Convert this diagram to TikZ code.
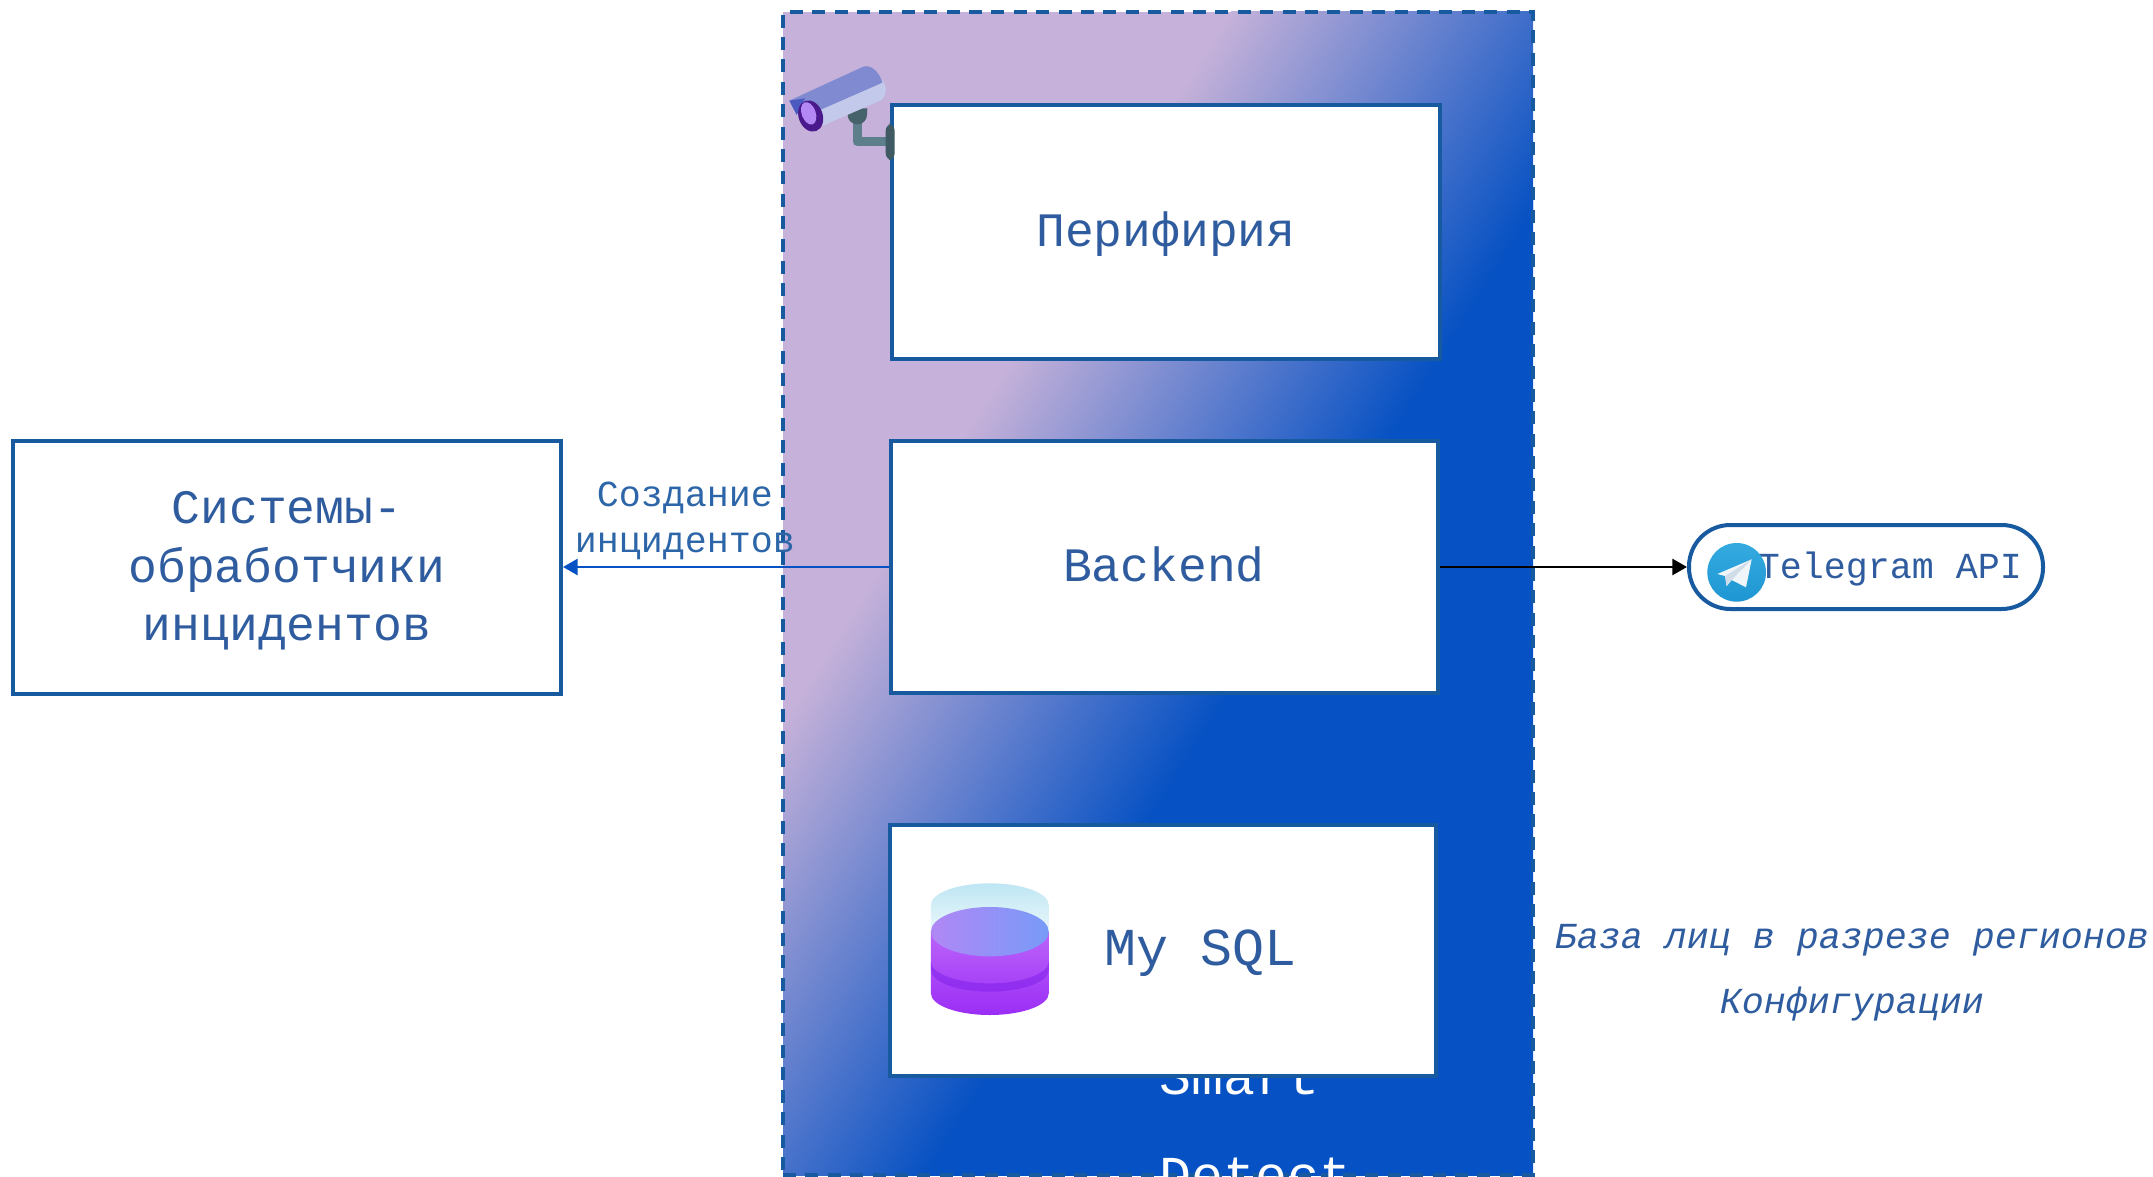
\documentclass[tikz,border=0pt]{standalone}
\usepackage{fontspec}
\setmainfont{Liberation Sans}
\setmonofont{Liberation Mono}
\usetikzlibrary{arrows.meta}
\definecolor{cpurple}{HTML}{C5B1D9}
\definecolor{cmid}{HTML}{7A80C8}
\definecolor{cblue}{HTML}{0651C3}
\definecolor{edge}{HTML}{185A9F}
\definecolor{ink}{HTML}{2F5C9F}
\definecolor{label}{HTML}{2D66A8}
\definecolor{camlight}{RGB}{194,201,234}
\definecolor{camdark}{RGB}{127,138,208}
\definecolor{camlip}{RGB}{74,90,192}
\definecolor{lensdark}{RGB}{74,26,140}
\definecolor{lenslight}{RGB}{179,136,245}
\definecolor{pipe}{RGB}{93,127,140}
\definecolor{ball}{RGB}{70,98,107}
\definecolor{plate}{RGB}{63,90,99}
\definecolor{dbcaptop}{RGB}{190,230,243}
\definecolor{dbcapbot}{RGB}{235,247,251}
\definecolor{dbtop}{RGB}{187,100,250}
\definecolor{dbbot}{RGB}{155,45,245}
\definecolor{dbband}{RGB}{125,30,235}
\definecolor{dbleft}{RGB}{176,135,245}
\definecolor{dbright}{RGB}{120,155,248}
\definecolor{tgtop}{RGB}{52,170,224}
\definecolor{tgbot}{RGB}{30,150,210}
\definecolor{tgpaper}{RGB}{240,245,250}
\definecolor{tgfold}{RGB}{208,220,232}
\tikzset{
  x=.75pt,y=-.75pt,
  txt/.style={font=\ttfamily\fontsize{36}{44}\selectfont,text=ink,align=center},
  box/.style={draw=edge,line width=3pt,fill=white,txt},
  fixh/.style={text height=22pt,text depth=0pt},
  small/.style={font=\ttfamily\fontsize{27.5}{34}\selectfont,text=label,align=center,inner sep=0pt},
  note/.style={font=\ttfamily\itshape\fontsize{27.5}{48.5}\selectfont,text=ink,align=center,inner sep=0pt},
  frame/.style={draw=edge,line width=2.6pt,dash pattern=on 9.8pt off 7pt},
  pill/.style={draw=edge,line width=3pt,fill=white,rounded corners=31pt,font=\ttfamily\fontsize{27.5}{34}\selectfont,text=ink,inner sep=0pt,text height=16.5pt,text depth=0pt},
  wire/.style={line width=2pt,-{Triangle[length=11pt,width=12pt]}}
}
\begin{document}
\begin{tikzpicture}
\useasboundingbox (0,0) rectangle (2153,1177);
\clip (0,0) rectangle (2153,1177);
% container gradient
\begin{scope}
  \clip (783,12) rectangle (1533,1175);
  \fill[cpurple] (783,12) rectangle (1533,1175);
  \begin{scope}[transform canvas={rotate around={-32.2:(0,0)}}]
    \fill[cblue] (1400,-3000) rectangle (4000,3000);
    \shade[left color=cpurple,middle color=cmid,right color=cblue] (1048,-3000) rectangle (1410,3000);
  \end{scope}
\end{scope}
\node[frame,minimum width=750*.75pt,minimum height=1163*.75pt,inner sep=0pt] (cont) at (1158,593.5) {};
% caption of the container, partly hidden
\node[font=\ttfamily\fontsize{40}{74}\selectfont,text=white,align=left,anchor=north west,inner sep=0pt] (cap) at (1159,1059) {Smart\\Detect};
% boxes
\node[box,fixh,minimum width=548*.75pt,minimum height=254*.75pt] (per) at (1166,232) {Перифирия};
\node[box,fixh,minimum width=547*.75pt,minimum height=252*.75pt] (back) at (1164,567) {Backend};
\node[box,minimum width=546*.75pt,minimum height=251*.75pt] (sql) at (1163,950) {};
\node[txt,font=\ttfamily\fontsize{40}{48}\selectfont,text height=22.5pt,text depth=0pt] (sqlt) at (1201,950) {My SQL};
\node[box,minimum width=548*.75pt,minimum height=253*.75pt] (sys) at (287,567) {};
\node[txt] (syst) at (287,571) {Системы-\\обработчики\\инцидентов};
\node[pill,minimum width=354*.75pt,minimum height=84*.75pt] (tg) at (1866,567) {\hspace*{36pt}Telegram API};
% connectors
\draw[wire,draw=cblue] (back.west) -- (sys.east);
\draw[wire,draw=black] (back.east) -- (tg.west);
\node[small] (lab) at (685,521) {Создание\\инцидентов};
\node[note] (nt) at (1852,973) {База лиц в разрезе регионов\\Конфигурации};
% camera
\begin{scope}[shift={(770,0)},x=.25pt,y=-.25pt]
  \draw[pipe,line width=7pt,line join=round] (262,350) -- (262,425) -- (350,425);
  \fill[ball] (233,345) arc (180:0:29 and 28) -- (292,325) -- (233,325) -- cycle;
  \fill[plate,rounded corners=5pt] (347,372) rectangle (374,480);
  \fill[camlight] (130,325) -- (338,240) .. controls (352,265) and (350,285) .. (335,300) -- (140,385) -- cycle;
  \fill[camdark] (58,302) -- (280,200) .. controls (305,192) and (330,220) .. (337,248) -- (150,330) -- (80,340) -- cycle;
  \fill[camlip] (58,302) -- (105,295) -- (80,345) -- cycle;
  \fill[lensdark,rotate around={20:(122,348)}] (122,348) ellipse [x radius=36,y radius=48];
  \fill[lenslight,rotate around={20:(116,340)}] (116,340) ellipse [x radius=21,y radius=35];
\end{scope}
% database
\begin{scope}[shift={(880,850)},x=.287pt,y=-.25pt]
  \shade[top color=dbcaptop,bottom color=dbcapbot] (133,165) arc (180:360:154 and 65) -- (441,245) -- (133,245) -- cycle;
  \shade[top color=dbtop,bottom color=dbbot] (133,245) -- (441,245) -- (441,430) arc (0:180:154 and 65) -- cycle;
  \fill[dbband,opacity=.5] (133,335) arc (180:0:154 and 65) -- (441,360) arc (0:180:154 and 65) -- cycle;
  \shade[left color=dbleft,right color=dbright] (287,245) ellipse [x radius=154,y radius=74];
\end{scope}
% telegram logo
\begin{scope}[shift={(1660,500)},x=.25pt,y=-.25pt]
  \shade[top color=tgtop,bottom color=tgbot] (230,217) circle [radius=88];
  \fill[tgpaper] (172,222) -- (275,178) -- (258,262) -- (215,240) -- (200,258) -- (195,228) -- cycle;
  \fill[tgfold] (195,228) -- (275,178) -- (215,240) -- (200,258) -- cycle;
\end{scope}
\end{tikzpicture}
\end{document}
